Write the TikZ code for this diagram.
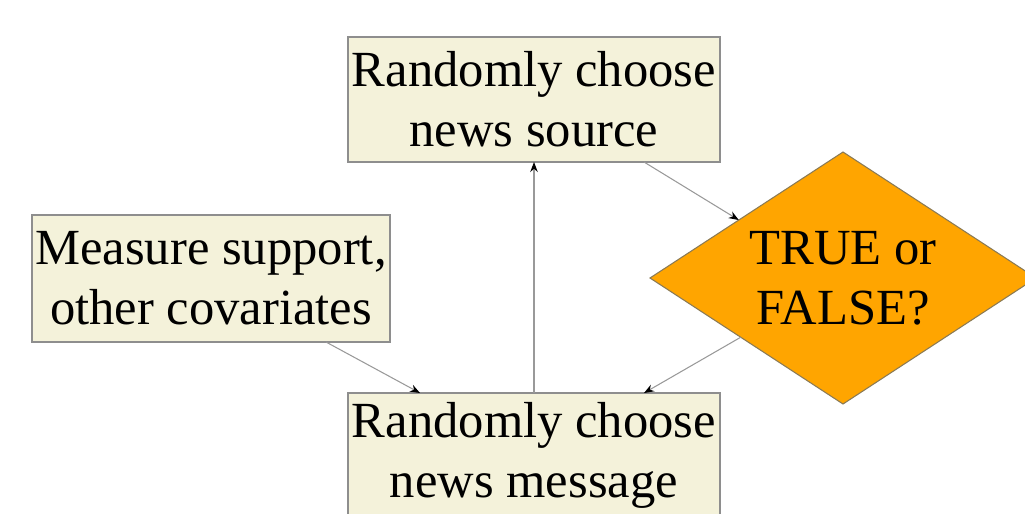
\documentclass[tikz,border=0pt]{standalone}
\usepackage{fontspec}
\setmainfont{Liberation Serif}
\usetikzlibrary{shapes.geometric,arrows.meta,calc}
\definecolor{boxfill}{HTML}{F4F2DA}
\definecolor{boxline}{HTML}{8E8E8E}
\definecolor{decide}{HTML}{FFA500}
\definecolor{decideline}{HTML}{8A7A55}

\begin{document}
\begin{tikzpicture}[
    x=0.2mm, y=-0.2mm,
    font=\fontsize{28.8}{34}\selectfont,
    card/.style={draw=boxline, fill=boxfill, align=center, inner sep=0pt,
                 outer sep=0pt, line width=0.6pt},
    link/.style={-{Stealth[length=2mm, width=1.5mm, color=black]},
                 draw=gray!80, line width=0.6pt},
  ]
  % frame of the slide (the picture is cut at right and bottom)
  \useasboundingbox (0,0) rectangle (1025,513);
  \clip (0,0) rectangle (1025,513);

  % steps
  \node[card, minimum width=7.44cm, minimum height=2.5cm] (source) at (534,99.5)
    {Randomly choose\\news source};
  \node[card, minimum width=7.16cm, minimum height=2.54cm] (covar) at (211,278.5)
    {Measure support,\\other covariates};
  \node[card, minimum width=7.44cm, minimum height=2.5cm] (message) at (534,455.5)
    {Randomly choose\\news message};

  % decision
  \node[diamond, draw=decideline, fill=decide, shape aspect=1.53, inner sep=0pt,
        outer sep=0pt, minimum width=7.72cm, minimum height=5.04cm, align=center,
        line width=0.6pt] (verdict) at (843,278) {TRUE or\\FALSE?};

  % connectors
  \draw[link] ([xshift=2.2cm]source.south) -- ($(verdict.west)!0.46!(verdict.north)$);
  \draw[link] ([xshift=2.3cm]covar.south) -- ([xshift=-2.28cm]message.north);
  \draw[link] ($(verdict.west)!0.47!(verdict.south)$) -- ([xshift=2.2cm]message.north);
  \draw[link] (message.north) -- (source.south);
\end{tikzpicture}
\end{document}
